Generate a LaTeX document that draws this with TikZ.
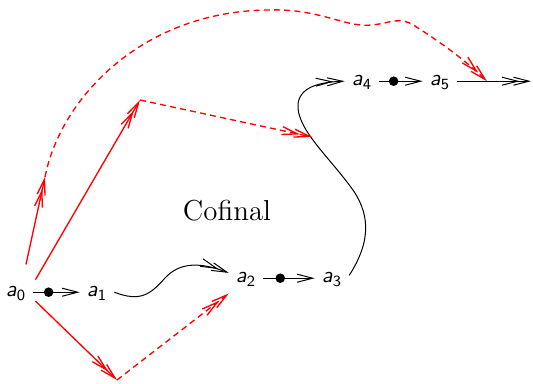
\documentclass[tikz,border=0pt]{standalone}
\usetikzlibrary{arrows.meta}
\newcommand{\lab}[1]{\textsf{\slshape a}\textsubscript{\sffamily\upshape #1}}
\begin{document}
\begin{tikzpicture}[x=0.45pt,y=-0.45pt,
  lbl/.style={inner sep=3pt, font=\sffamily, anchor=base},
  blk/.style={draw=black, line width=0.45pt},
  bar/.style={-{Straight Barb[length=7pt,width=3.6pt]}},
  bbar/.style={-{Straight Barb[length=7pt,width=3.6pt,sep=-3pt] Straight Barb[length=7pt,width=3.6pt]}},
  dotc/.style={circle, fill=black, inner sep=0pt, minimum size=4.3pt},
  rs/.style={draw=red, line width=0.6pt},
  rd/.style={rs, dash pattern=on 2.7pt off 1.9pt}]
\useasboundingbox (0,0) rectangle (533,384);
\node[lbl] (a0) at (16,297) {\lab{0}};
\node[lbl] (a1) at (97,297) {\lab{1}};
\node[lbl] (a2) at (246,283) {\lab{2}};
\node[lbl] (a3) at (332,283) {\lab{3}};
\node[lbl] (a4) at (362,86) {\lab{4}};
\node[lbl] (a5) at (440,86) {\lab{5}};
\node (cof) at (227,211) {\fontsize{13}{15}\selectfont Cofinal};
\coordinate (P1) at (140,100);
\coordinate (P2) at (45,177);
\coordinate (P3) at (117,380);
\coordinate (Q) at (312,137);
\coordinate (Tx) at (487,0);
\coordinate (Ex) at (531,0);
\coordinate (T) at (a5.mid east -| Tx);
\coordinate (E) at (a5.mid east -| Ex);
\draw[blk,bar] (a0.mid east) -- node[dotc,pos=0.33]{} (a1.mid west);
\draw[blk,bar] (a2.mid east) -- node[dotc,pos=0.33]{} (a3.mid west);
\draw[blk,bar] (a4.mid east) -- node[dotc,pos=0.33]{} (a5.mid west);
\draw[blk,bbar] (a5.mid east) -- (E);
\draw[blk,bbar] (a1.mid east) .. controls (140,302) and (150,295) .. (165,278) .. controls (180,262) and (200,262) .. ([yshift=3pt]a2.west);
\draw[blk,bbar] ([yshift=2pt]a3.east) .. controls (372,240) and (370,212) .. (350,186) .. controls (328,156) and (296,128) .. (298,104) .. controls (300,86) and (322,82) .. (a4.mid west);
\draw[rs,bbar] ([xshift=1pt]a0.north east) -- (P1);
\draw[rs,bbar,shorten <=7pt] ([xshift=3pt]a0.north) -- (P2);
\draw[rs,bbar] ([xshift=1pt,yshift=3pt]a0.south east) -- (P3);
\draw[rd,bbar] (P3) -- (a2.south west);
\draw[rd,bbar] (P1) -- (Q);
\draw[rd,bbar] (P2) .. controls (60,100) and (140,12) .. (267,10) .. controls (320,8) and (345,28) .. (372,25) .. controls (392,23) and (400,15) .. (418,28) .. controls (440,42) and (465,60) .. (T);
\end{tikzpicture}
\end{document}
